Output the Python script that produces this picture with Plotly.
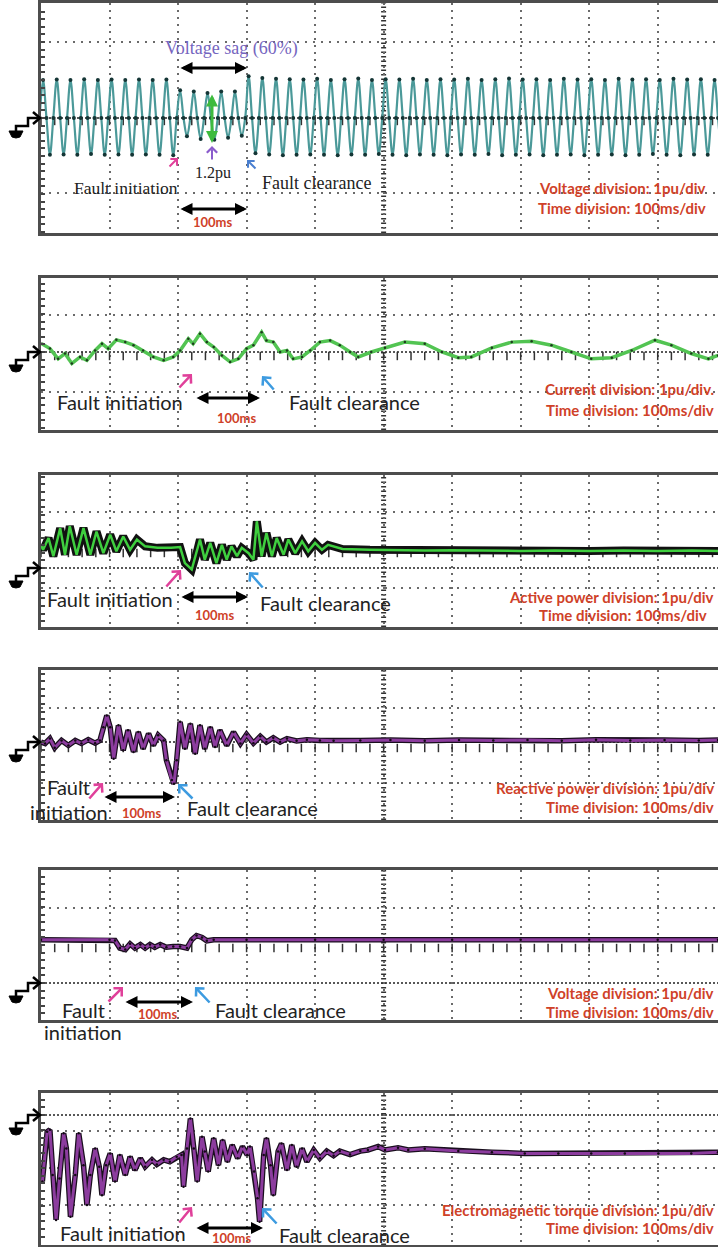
import numpy as np
import plotly.graph_objects as go

W, H = 718, 1247
DIV = 38.0        # px per vertical division (1 pu/div)
XL = 41           # left frame edge (px)

# ------------------------------------------------------------------ data
# time in ms (100 ms/div), values in pu (1 pu/div)

# Panel 1: grid voltage, per 20 ms cycle: positive peak and negative trough
volt_peak = [1.00, 1.01, 1.00, 1.02, 1.00, 1.01, 1.00, 1.01, 1.00, 1.01,
             0.73, 0.70, 0.66, 0.70, 0.70,
             1.10, 1.05, 1.03, 1.02, 1.01, 1.03, 1.00, 1.02, 1.04, 1.00,
             1.02, 1.01, 1.03, 1.00, 1.02, 1.01, 1.03, 1.00, 1.02, 1.04,
             1.01, 1.02, 1.00, 1.03, 1.01, 1.02, 1.00, 1.03, 1.01, 1.02,
             1.00, 1.03, 1.01, 1.02, 1.00]
volt_trough = [-0.97, -0.96, -0.97, -0.95, -0.97, -0.96, -0.97, -0.96, -0.97, -0.98,
               -0.48, -0.55, -0.57, -0.52, -0.47,
               -0.93, -0.96, -0.98, -0.97, -0.96, -0.97, -0.98, -0.96, -0.97, -0.95,
               -0.97, -0.98, -0.96, -0.97, -0.98, -0.96, -0.97, -0.95, -0.98, -0.97,
               -0.96, -0.98, -0.97, -0.96, -0.98, -0.97, -0.96, -0.98, -0.97, -0.95,
               -0.97, -0.98, -0.96, -0.97, -0.98]
volt_t0, volt_dt = -2, 5   # first sample time, quarter-cycle sample step (ms)

# Panel 2: current
cur_t = [1, 13, 25, 35, 45, 57, 67, 79, 89, 98, 110, 123, 135, 149, 164, 179, 193, 203, 215, 222,
         232, 242, 252, 264, 276, 288, 300, 310, 322, 329, 339, 349, 359, 368, 381, 393, 407, 422, 436, 451,
         463, 482, 502, 531, 560, 585, 609, 628, 658, 687, 716, 745, 774, 803, 833, 862, 896, 920, 949, 974, 988]
cur_v = [0.22, 0.09, -0.18, -0.04, -0.30, -0.13, -0.22, 0.04, 0.22, 0.09, 0.32, 0.26, 0.18, 0.04, -0.13, -0.22, -0.13, 0.04, 0.35, 0.22,
         0.48, 0.26, 0.13, -0.09, -0.26, -0.18, 0.09, 0.18, 0.52, 0.30, 0.26, 0.0, 0.04, -0.18, -0.13, 0.04, 0.26, 0.30, 0.18, 0.0,
         -0.13, 0.0, 0.11, 0.26, 0.22, 0.0, -0.15, -0.13, 0.11, 0.26, 0.28, 0.18, 0.0, -0.18, -0.15, 0.04, 0.31, 0.18, -0.04, -0.18, -0.09]

# Panel 3: active power
p_t = [0, 3, 11, 18, 28, 35, 42, 52, 62, 72, 81, 91, 101, 110, 120, 130, 140, 152, 170, 190,
       203, 210, 220, 227, 232, 239, 247, 256, 264, 271, 278, 286, 293, 303, 310, 315, 322, 329, 337, 344,
       354, 361, 371, 381, 390, 400, 410, 419, 440, 480, 520, 560, 600, 650, 700, 750, 800, 850, 900, 950, 988]
p_v = [0.60, 0.48, 0.79, 0.31, 1.05, 0.35, 1.10, 0.35, 1.05, 0.35, 0.96, 0.39, 0.88, 0.44, 0.83, 0.48, 0.75, 0.57, 0.53, 0.53,
       0.55, 0.13, -0.04, 0.39, 0.75, 0.22, 0.66, 0.13, 0.61, 0.22, 0.57, 0.31, 0.53, 0.39, 0.22, 1.23, 0.31, 0.92, 0.31, 0.79,
       0.35, 0.75, 0.39, 0.70, 0.44, 0.66, 0.48, 0.61, 0.50, 0.48, 0.47, 0.46, 0.47, 0.46, 0.45, 0.46, 0.45, 0.46, 0.45, 0.46, 0.45]

# Panel 4: reactive power
q_t = [0, 6, 13, 20, 30, 40, 50, 59, 69, 79, 86, 91, 96, 101, 106, 113, 120, 127, 135, 142,
       149, 157, 164, 171, 179, 183, 191, 194, 198, 203, 210, 218, 225, 232, 239, 247, 254, 261, 271, 281,
       291, 300, 310, 320, 329, 339, 349, 359, 373, 388, 407, 427, 466, 510, 560, 610, 660, 710, 760, 810,
       860, 910, 960, 988]
q_v = [0.0, -0.04, 0.09, -0.15, 0.04, -0.09, 0.04, -0.04, 0.06, -0.03, 0.04, 0.39, 0.70, 0.39, -0.44, 0.44, -0.22, 0.31, -0.26, 0.26,
       -0.18, 0.22, -0.09, 0.18, 0.04, -0.48, -1.0, -1.10, -0.48, 0.53, -0.18, 0.48, -0.31, 0.44, -0.18, 0.39, -0.13, 0.31, -0.09, 0.26,
       -0.04, 0.20, -0.03, 0.15, 0.0, 0.11, 0.0, 0.09, 0.03, 0.06, 0.04, 0.03, 0.04, 0.05, 0.03, 0.05, 0.04, 0.05, 0.03, 0.06,
       0.04, 0.05, 0.04, 0.05]

# Panel 5: terminal voltage
u_t = [0, 100, 108, 115, 123, 130, 137, 145, 152, 159, 166, 174, 183, 193, 203, 213, 220, 227, 235, 242,
       252, 300, 400, 500, 600, 700, 800, 900, 988]
u_v = [1.14, 1.14, 1.12, 0.92, 0.88, 1.03, 0.92, 1.01, 0.92, 1.01, 0.94, 1.01, 0.94, 0.96, 0.96, 0.92, 1.14, 1.25, 1.20, 1.11,
       1.14, 1.14, 1.14, 1.14, 1.14, 1.14, 1.14, 1.14, 1.14]

# Panel 6: electromagnetic torque
te_t = [2, 9, 13, 17, 22, 27, 33, 37, 43, 50, 55, 62, 67, 72, 79, 85, 89, 95, 101, 108,
        115, 123, 130, 137, 145, 152, 162, 169, 179, 188, 198, 205, 208, 213, 218, 223, 228, 235, 239, 244,
        252, 259, 265, 272, 279, 287, 294, 301, 305, 311, 316, 319, 325, 329, 335, 339, 346, 351, 359, 366,
        373, 381, 388, 398, 407, 417, 427, 436, 451, 466, 477, 492, 502, 521, 536, 560, 609, 658, 706, 755,
        803, 852, 901, 949, 988]
te_v = [-1.75, -0.44, -0.39, -1.58, -2.76, -1.67, -0.48, -0.88, -2.68, -1.58, -0.48, -1.32, -2.37, -1.58, -0.88, -1.36, -2.11, -1.32, -1.01, -1.75,
        -1.05, -1.58, -1.10, -1.45, -1.14, -1.36, -1.18, -1.30, -1.18, -1.23, -1.10, -1.05, -1.89, -0.88, -0.09, -0.88, -1.75, -0.57, -0.96, -1.49,
        -0.61, -1.32, -0.66, -1.23, -0.79, -1.14, -0.83, -1.05, -0.83, -1.49, -2.19, -2.81, -1.05, -0.61, -1.32, -2.11, -0.96, -0.75, -1.45, -0.79,
        -1.36, -0.88, -1.23, -0.92, -1.14, -0.95, -1.07, -0.95, -1.04, -0.95, -0.92, -0.83, -0.92, -0.86, -0.92, -0.89, -0.95, -0.98, -1.01, -1.01,
        -1.01, -1.01, -1.01, -1.01, -0.98]

volt_v = []
for pk, tr in zip(volt_peak, volt_trough):
    volt_v += [0.0, pk, 0.0, tr]
volt_t = volt_t0 + volt_dt * np.arange(len(volt_v))

# ------------------------------------------------------------------ layout geometry (px)
panels = [
    dict(top=3,    bot=233,  gnd=118,  grid=[42, 193],   center=118,  ticks=True),
    dict(top=278,  bot=430,  gnd=352,  grid=[315, 392],  center=353,  ticks=True),
    dict(top=475,  bot=627,  gnd=568,  grid=[512, 588],  center=550,  ticks=True),
    dict(top=670,  bot=820,  gnd=742,  grid=[708, 783],  center=745,  ticks=True),
    dict(top=870,  bot=1020, gnd=983,  grid=[908],       center=945,  ticks=True),
    dict(top=1093, bot=1245, gnd=1115, grid=[1131, 1168, 1205], center=1168, ticks=False),
]

def PX(x): return x / W
def PY(y): return 1 - y / H
def val(p, ypx): return (p['gnd'] - ypx) / DIV

FRAME = '#4d4d4d'
GRID = '#6a6a6a'
RED = '#cf4128'
PINK = '#e0409a'
BLUE = '#3d9be0'
SANS = 'Lato'
SERIF = 'Liberation Serif'
XMAX = 988
FS = 20      # annotation font size (sans panels)
RS = 15      # red caption size
XR = 716     # right edge for right-aligned captions

fig = go.Figure()
layout = dict(width=W, height=H, margin=dict(l=0, r=0, t=0, b=0),
              paper_bgcolor='white', plot_bgcolor='white', showlegend=False)
shapes, annots = [], []

def pth(pts, close=False):
    s = 'M ' + ' L '.join(f'{PX(x):.5f},{PY(y):.5f}' for x, y in pts)
    return s + (' Z' if close else '')

for i, p in enumerate(panels, start=1):
    sx = '' if i == 1 else str(i)
    layout['xaxis' + sx] = dict(domain=[XL / W, 1], range=[0, XMAX], anchor='y' + sx,
                                showgrid=True, gridcolor=GRID, griddash='2px,5px', gridwidth=2,
                                tick0=0, dtick=100, showticklabels=False, ticks='', zeroline=False,
                                showline=True, mirror=True, linecolor=FRAME, linewidth=2.5, fixedrange=True)
    layout['yaxis' + sx] = dict(domain=[PY(p['bot']), PY(p['top'])],
                                range=[val(p, p['bot']), val(p, p['top'])], anchor='x' + sx,
                                showgrid=False, zeroline=False, showticklabels=False,
                                tickmode='linear', tick0=0, dtick=0.2, ticks='inside', ticklen=4,
                                tickwidth=1.5, tickcolor='#444',
                                showline=True, mirror=False, linecolor=FRAME, linewidth=2.5, fixedrange=True)
    xr, yr = 'x' + sx, 'y' + sx
    for g in p['grid']:
        shapes.append(dict(type='line', xref=xr + ' domain', x0=0, x1=1, yref=yr, y0=val(p, g), y1=val(p, g),
                           line=dict(color=GRID, width=2, dash='2px,6px'), layer='below'))
    # ground reference line
    shapes.append(dict(type='line', xref=xr + ' domain', x0=0, x1=1, yref=yr, y0=0, y1=0,
                       line=dict(color='#222', width=1.5, dash='2px,2px'), layer='below'))
    # heavy centre vertical axis
    shapes.append(dict(type='line', xref=xr, x0=500, x1=500, yref=yr + ' domain', y0=0, y1=1,
                       line=dict(color='#333', width=5, dash='1.5px,3px'), layer='below'))
    # centre horizontal axis tick marks
    if p['ticks']:
        tx = np.arange(0, XMAX, 20)
        fig.add_trace(go.Scatter(x=tx, y=np.full(len(tx), val(p, p['center'] + 3)), mode='markers',
                                 xaxis=xr, yaxis=yr, hoverinfo='skip',
                                 marker=dict(symbol='line-ns-open', size=6, color='#333',
                                             line=dict(color='#333', width=1.5))))
    # ground symbol (arrow + earth)
    g = p['gnd']
    shapes.append(dict(type='path', xref='paper', yref='paper',
                       path=pth([(16, g + 13), (16, g + 8), (28, g + 8), (28, g), (40, g)]),
                       line=dict(color='black', width=2.5)))
    shapes.append(dict(type='path', xref='paper', yref='paper',
                       path=pth([(33, g - 6), (40, g), (33, g + 6)]),
                       line=dict(color='black', width=2.5)))
    shapes.append(dict(type='path', xref='paper', yref='paper',
                       path=pth([(9, g + 13), (23, g + 13), (20, g + 19), (16, g + 20), (12, g + 19)], close=True),
                       fillcolor='black', line=dict(color='black', width=1)))

# ------------------------------------------------------------------ traces
fig.add_trace(go.Scatter(x=volt_t, y=volt_v, mode='lines+markers', xaxis='x', yaxis='y', hoverinfo='skip',
                         line=dict(color='#4b9999', width=2.2, shape='spline', smoothing=1.0),
                         marker=dict(color='#143535', size=4)))
fig.add_trace(go.Scatter(x=cur_t, y=cur_v, mode='lines+markers', xaxis='x2', yaxis='y2', hoverinfo='skip',
                         line=dict(color='#52c452', width=3.5), marker=dict(color='#1f3a1f', size=2.5)))
fig.add_trace(go.Scatter(x=p_t, y=p_v, mode='lines', xaxis='x3', yaxis='y3', hoverinfo='skip',
                         line=dict(color='#111', width=8)))
fig.add_trace(go.Scatter(x=p_t, y=p_v, mode='lines', xaxis='x3', yaxis='y3', hoverinfo='skip',
                         line=dict(color='#3fcf3f', width=2.5)))
for xs, ys, ax in [(q_t, q_v, '4'), (u_t, u_v, '5'), (te_t, te_v, '6')]:
    fig.add_trace(go.Scatter(x=xs, y=ys, mode='lines', xaxis='x' + ax, yaxis='y' + ax, hoverinfo='skip',
                             line=dict(color='#1a0f1e', width=5.5)))
    fig.add_trace(go.Scatter(x=xs, y=ys, mode='lines+markers', xaxis='x' + ax, yaxis='y' + ax, hoverinfo='skip',
                             line=dict(color='#8c3c9e', width=3), marker=dict(color='#120a14', size=2.5)))

# ------------------------------------------------------------------ annotations
def txt(x, y, s, size, color='#222', family=SANS, anchor='left', bold=False):
    if bold:
        s = '<b>' + s + '</b>'
    annots.append(dict(x=PX(x), y=PY(y), xref='paper', yref='paper', text=s, showarrow=False,
                       xanchor=anchor, yanchor='middle', font=dict(family=family, size=size, color=color)))

def arrow(xh, yh, xt, yt, color, width=2.5, head=4, size=0.9, both=False):
    d = dict(x=PX(xh), y=PY(yh), xref='paper', yref='paper', ax=xt - xh, ay=yt - yh,
             axref='pixel', ayref='pixel', text='', showarrow=True, arrowhead=head, arrowsize=size,
             arrowwidth=width, arrowcolor=color, standoff=0, startstandoff=0)
    if both:
        d.update(arrowside='end+start', startarrowhead=head, startarrowsize=size)
    annots.append(d)

def darrow(x0, x1, y):
    arrow(x1, y, x0, y, 'black', width=3, head=2, size=0.8, both=True)

# panel 1
txt(231, 49, 'Voltage sag (60%)', 18, '#7565c0', SERIF, 'center')
darrow(179, 247, 68)
arrow(212, 143, 212, 93, '#3dbb3d', width=3, head=2, size=0.8, both=True)
arrow(212, 146, 212, 161, '#8a5ccc', width=2, head=4, size=1.0)
txt(213, 173, '1.2pu', 16, '#222', SERIF, 'center')
arrow(178, 158, 168, 168, PINK, width=2)
txt(126, 188, 'Fault initiation', 17.5, '#222', SERIF, 'center')
arrow(247, 160, 257, 170, '#4a7fd0', width=2)
txt(260, 183, 'Fault clearance', 18, '#222', SERIF, 'left')
darrow(179, 247, 209)
txt(213, 222, '100ms', 13, RED, SANS, 'center', True)
txt(622, 188, 'Voltage division: 1pu/div', RS, RED, SANS, 'center', True)
txt(622, 208, 'Time division: 100ms/div', RS, RED, SANS, 'center', True)

# panel 2
arrow(192, 374, 178, 389, PINK)
txt(55, 402, 'Fault initiation', FS)
darrow(195, 260, 398)
txt(237, 418, '100ms', 13, RED, SANS, 'center', True)
arrow(262, 376, 275, 391, BLUE)
txt(287, 402, 'Fault clearance', FS)
txt(XR, 389, 'Current division: 1pu/div.', RS, RED, SANS, 'right', True)
txt(XR, 410, 'Time division: 100ms/div', RS, RED, SANS, 'right', True)

# panel 3
arrow(181, 570, 165, 588, PINK)
txt(45, 599, 'Fault initiation', FS)
darrow(180, 248, 597)
txt(215, 615, '100ms', 13, RED, SANS, 'center', True)
arrow(249, 572, 264, 589, BLUE)
txt(258, 603, 'Fault clearance', FS)
txt(XR, 597, 'Active power division: 1pu/div', RS, RED, SANS, 'right', True)
txt(623, 615, 'Time division: 100ms/div', RS, RED, SANS, 'center', True)

# panel 4
txt(45, 787, 'Fault', FS)
txt(28, 812, 'initiation', FS)
arrow(103, 783, 88, 800, PINK)
darrow(103, 175, 797)
txt(142, 813, '100ms', 13, RED, SANS, 'center', True)
arrow(178, 784, 194, 800, BLUE)
txt(185, 808, 'Fault clearance', FS)
txt(XR, 788, 'Reactive power division: 1pu/div', RS, RED, SANS, 'right', True)
txt(XR, 807, 'Time division: 100ms/div', RS, RED, SANS, 'right', True)

# panel 5
txt(60, 1010, 'Fault', FS)
txt(42, 1032, 'initiation', FS)
arrow(123, 987, 107, 1003, PINK)
darrow(124, 193, 1002)
txt(158, 1014, '100ms', 13, RED, SANS, 'center', True)
arrow(195, 987, 211, 1004, BLUE)
txt(213, 1010, 'Fault clearance', FS)
txt(XR, 993, 'Voltage division: 1pu/div', RS, RED, SANS, 'right', True)
txt(XR, 1012, 'Time division: 100ms/div', RS, RED, SANS, 'right', True)

# panel 6
txt(58, 1233, 'Fault initiation', FS)
arrow(192, 1207, 178, 1224, PINK)
darrow(195, 263, 1228)
txt(232, 1238, '100ms', 13, RED, SANS, 'center', True)
arrow(262, 1208, 278, 1225, BLUE)
txt(277, 1235, 'Fault clearance', FS)
txt(XR, 1210, 'Electromagnetic torque division: 1pu/div', RS, RED, SANS, 'right', True)
txt(XR, 1228, 'Time division: 100ms/div', RS, RED, SANS, 'right', True)

layout['shapes'] = shapes
layout['annotations'] = annots
fig.update_layout(**layout)
fig.write_html('out.html', config={'displayModeBar': False})
